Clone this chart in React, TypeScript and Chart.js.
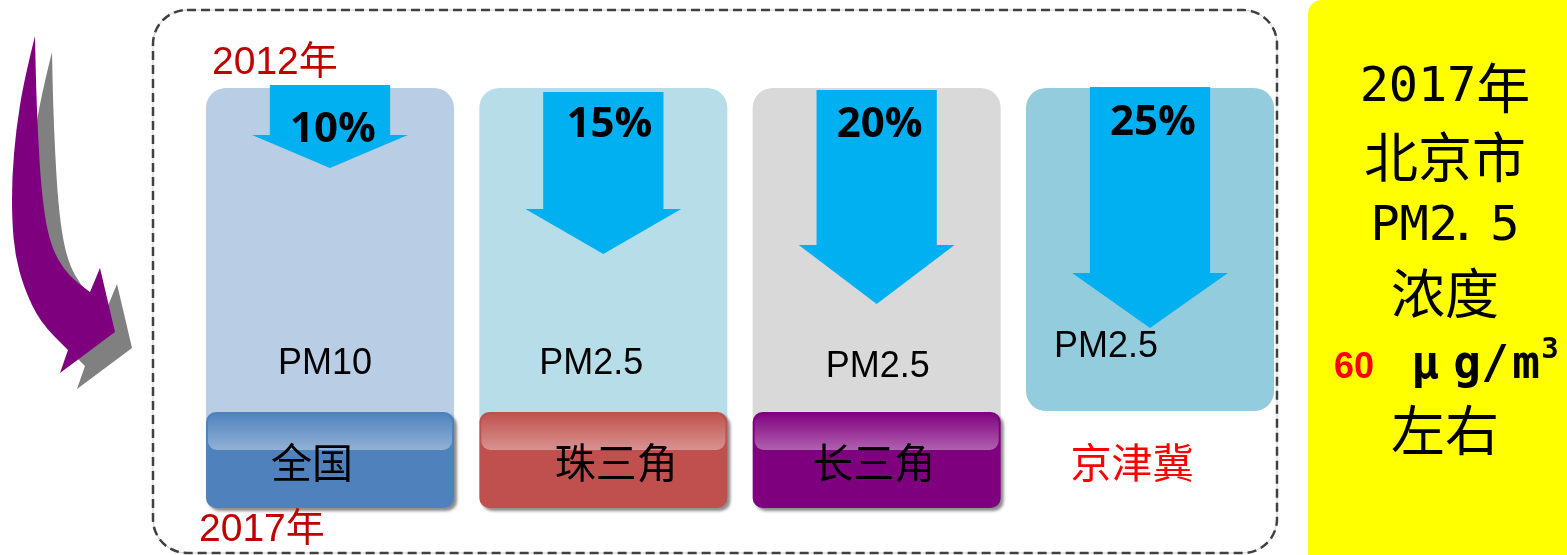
import React, { useEffect, useRef } from 'react';
import { Chart, registerables } from 'chart.js';

Chart.register(...registerables);

// ---------------- data ----------------
const regions = ['全国', '珠三角', '长三角', '京津冀'];
const reductionPct = [10, 15, 20, 25];
const pollutants = ['PM10', 'PM2.5', 'PM2.5', 'PM2.5'];
// depth scale: 0 = 2012 (top of panels), 420 = 2017 (bottom)
const panelSpan = [[0, 352], [0, 352], [0, 352], [0, 323]];
const regionBoxSpan: (number[] | null)[] = [[324, 420], [324, 420], [324, 420], null];
const arrowTop = [-3, 4, 2, -1];
const arrowHeadStart = [47, 121, 157, 185];
const arrowTip = [80, 166, 216, 240];
const yearStart = '2012年';
const yearEnd = '2017年';
const beijingLines = ['2017年', '北京市', 'PM2．5', '浓度'];
const beijingValue = '60';
const beijingUnit = ['μ', 'g', '/', 'm'];
const beijingUnitSup = '3';
const beijingTail = '左右';

// ---------------- styles ----------------
const panelColors = ['#b9cde5', '#b7dee8', '#d9d9d9', '#93cddd'];
const boxColors = ['#4f81bd', '#c0504d', '#7f007f', 'rgba(0,0,0,0)'];
const arrowColor = '#00b0f0';
const regionTextColors = ['#000000', '#000000', '#000000', '#ff0000'];

const CJK = '"Noto Sans CJK SC"';

function drawCells(ctx: CanvasRenderingContext2D, text: string, cx: number, cy: number, size: number) {
  const chars = Array.from(text);
  const widths = chars.map((c) => (c === '．' ? size * 0.6 : c.charCodeAt(0) < 128 ? size * 0.54 : size));
  const total = widths.reduce((a, b) => a + b, 0);
  let x = cx - total / 2;
  ctx.textBaseline = 'middle';
  chars.forEach((c, i) => {
    if (c === '．') {
      ctx.font = `${size * 0.9}px "DejaVu Sans Mono"`;
      ctx.textAlign = 'center';
      ctx.fillText('.', x + size * 0.1, cy);
    } else if (c.charCodeAt(0) < 128) {
      ctx.font = `${size * 0.9}px "DejaVu Sans Mono"`;
      ctx.textAlign = 'center';
      ctx.fillText(c, x + widths[i] / 2, cy);
    } else {
      ctx.font = `${size}px ${CJK}`;
      ctx.textAlign = 'left';
      ctx.fillText(c, x, cy);
    }
    x += widths[i];
  });
}

function smoothTrace(ctx: CanvasRenderingContext2D, pts: number[][], start: boolean) {
  if (start) ctx.moveTo(pts[0][0], pts[0][1]);
  else ctx.lineTo(pts[0][0], pts[0][1]);
  for (let i = 1; i < pts.length - 1; i++) {
    const mx = (pts[i][0] + pts[i + 1][0]) / 2;
    const my = (pts[i][1] + pts[i + 1][1]) / 2;
    ctx.quadraticCurveTo(pts[i][0], pts[i][1], mx, my);
  }
  const last = pts[pts.length - 1];
  ctx.lineTo(last[0], last[1]);
}

function curvedArrow(ctx: CanvasRenderingContext2D, dx: number, dy: number, color: string) {
  const outer = [[35, 36], [24, 80], [16, 130], [12, 177], [12, 220], [15, 255], [24, 288], [40, 322], [68, 350]];
  const inner = [[90, 292], [76, 282], [63, 268], [53, 250], [46, 225], [41, 185], [38, 135], [36, 85], [35, 36]];
  const t = (p: number[]) => [p[0] + dx, p[1] + dy];
  ctx.beginPath();
  smoothTrace(ctx, outer.map(t), true);
  ctx.lineTo(60 + dx, 373 + dy);
  ctx.lineTo(115 + dx, 332 + dy);
  ctx.lineTo(100 + dx, 268 + dy);
  smoothTrace(ctx, inner.map(t), false);
  ctx.closePath();
  ctx.fillStyle = color;
  ctx.fill();
}

const decorPlugin = {
  id: 'decor',
  beforeDatasetDraw(chart: any, args: any) {
    if (args.index === 1) {
      const ctx = chart.ctx;
      ctx.save();
      ctx.shadowColor = 'rgba(0,0,0,0.45)';
      ctx.shadowOffsetX = 3;
      ctx.shadowOffsetY = 3;
      ctx.shadowBlur = 3;
    }
  },
  afterDatasetDraw(chart: any, args: any) {
    const ctx: CanvasRenderingContext2D = chart.ctx;
    const yS = chart.scales.y;
    if (args.index === 1) {
      ctx.restore();
      args.meta.data.forEach((el: any, i: number) => {
        if (!regionBoxSpan[i]) return;
        const top = Math.min(el.y, el.base);
        const x0 = el.x - el.width / 2;
        const g = ctx.createLinearGradient(0, top, 0, top + 38);
        g.addColorStop(0, 'rgba(255,255,255,0.0)');
        g.addColorStop(1, 'rgba(255,255,255,0.38)');
        ctx.fillStyle = g;
        ctx.beginPath();
        (ctx as any).roundRect(x0 + 2, top + 2, el.width - 4, 36, 9);
        ctx.fill();
      });
    }
    if (args.index === 0) {
      const headW = (chart.scales.x.width / regions.length) * 0.57;
      ctx.fillStyle = arrowColor;
      args.meta.data.forEach((el: any, i: number) => {
        const yh = yS.getPixelForValue(arrowHeadStart[i]);
        const yt = yS.getPixelForValue(arrowTip[i]);
        ctx.beginPath();
        ctx.moveTo(el.x - headW / 2, yh);
        ctx.lineTo(el.x + headW / 2, yh);
        ctx.lineTo(el.x, yt);
        ctx.closePath();
        ctx.fill();
      });
    }
  },
  afterDatasetsDraw(chart: any) {
    const ctx: CanvasRenderingContext2D = chart.ctx;
    const xS = chart.scales.x;
    const yS = chart.scales.y;
    const pctDx = [3, 6, 3, 3];
    const pctBase = [54, 49, 49, 47];
    const pmDx = [-5, -12, 1, -44];
    const pmBase = [286, 286, 289, 269];
    const regDx = [-18, 13, -3, -18];
    const regMid = 374;
    ctx.save();
    regions.forEach((r, i) => {
      const xc = xS.getPixelForValue(i);
      ctx.fillStyle = '#000';
      ctx.textAlign = 'center';
      ctx.textBaseline = 'alphabetic';
      ctx.font = 'bold 42px "Open Sans"';
      ctx.fillText(`${reductionPct[i]}%`, xc + pctDx[i], yS.getPixelForValue(pctBase[i]));
      ctx.font = '36px "Liberation Sans"';
      ctx.fillText(pollutants[i], xc + pmDx[i], yS.getPixelForValue(pmBase[i]));
      ctx.fillStyle = regionTextColors[i];
      ctx.textBaseline = 'middle';
      ctx.font = `41px ${CJK}`;
      ctx.fillText(r, xc + regDx[i], yS.getPixelForValue(regMid));
    });
    ctx.restore();
  },
  afterDraw(chart: any) {
    const ctx: CanvasRenderingContext2D = chart.ctx;
    ctx.save();
    // dashed frame
    ctx.beginPath();
    (ctx as any).roundRect(153, 10, 1124, 543, 34);
    ctx.strokeStyle = '#cfcfcf';
    ctx.lineWidth = 1;
    ctx.stroke();
    ctx.setLineDash([9, 5]);
    ctx.strokeStyle = '#404040';
    ctx.lineWidth = 2.5;
    ctx.stroke();
    ctx.setLineDash([]);

    // year labels
    ctx.fillStyle = '#c00000';
    ctx.font = `39px "Liberation Sans", ${CJK}`;
    ctx.textAlign = 'left';
    ctx.textBaseline = 'middle';
    ctx.fillText(yearStart, 212, 63);
    ctx.fillText(yearEnd, 199, 530);

    // curved arrow with shadow
    curvedArrow(ctx, 17, 16, '#808080');
    curvedArrow(ctx, 0, 0, '#7f007f');

    // yellow box
    ctx.fillStyle = '#ffff00';
    ctx.beginPath();
    (ctx as any).roundRect(1308, 0, 280, 570, [14, 0, 0, 0]);
    ctx.fill();

    ctx.fillStyle = '#000';
    const cx = 1445;
    const lineY = [88, 157, 227, 293];
    beijingLines.forEach((s, i) => drawCells(ctx, s, cx, lineY[i], 54));
    drawCells(ctx, beijingTail, cx, 430, 54);

    ctx.textAlign = 'center';
    ctx.textBaseline = 'alphabetic';
    ctx.fillStyle = '#ff0000';
    ctx.font = 'bold 36px "Liberation Sans"';
    ctx.fillText(beijingValue, 1354, 378);
    ctx.fillStyle = '#000';
    ctx.font = 'bold 46px "DejaVu Sans Mono"';
    const unitX = [1425, 1467, 1495, 1526];
    beijingUnit.forEach((c, i) => ctx.fillText(c, unitX[i], 378));
    ctx.font = 'bold 29px "DejaVu Sans Mono"';
    ctx.fillText(beijingUnitSup, 1550, 358);
    ctx.restore();
  },
};

export default function App() {
  const ref = useRef<HTMLCanvasElement | null>(null);
  useEffect(() => {
    if (!ref.current) return;
    const common = { categoryPercentage: 1, grouped: false, borderSkipped: false, clip: false } as any;
    const chart = new Chart(ref.current, {
      type: 'bar',
      data: {
        labels: regions,
        datasets: [
          {
            ...common,
            label: 'arrow',
            data: arrowTop.map((t, i) => [t, arrowHeadStart[i] + 1]),
            backgroundColor: arrowColor,
            barPercentage: 0.44,
            order: 1,
          },
          {
            ...common,
            label: 'region',
            data: regionBoxSpan as any,
            backgroundColor: boxColors,
            borderRadius: 10,
            barPercentage: 0.9074,
            order: 2,
          },
          {
            ...common,
            label: 'panel',
            data: panelSpan as any,
            backgroundColor: panelColors,
            borderRadius: 20,
            barPercentage: 0.9074,
            order: 3,
          },
        ],
      },
      options: {
        animation: false,
        responsive: false,
        maintainAspectRatio: false,
        events: [],
        layout: { padding: { left: 193.3, right: 280.3, top: 88, bottom: 47 } },
        scales: {
          x: { display: false, offset: true, grid: { display: false } },
          y: { display: false, reverse: true, min: 0, max: 420, grid: { display: false } },
        },
        plugins: { legend: { display: false }, tooltip: { enabled: false } },
      },
      plugins: [decorPlugin as any],
    });
    return () => chart.destroy();
  }, []);
  return (
    <div style={{ position: 'absolute', left: 0, top: 0, width: 1567, height: 555 }}>
      <canvas ref={ref} width={1567} height={555} style={{ display: 'block' }} />
    </div>
  );
}
